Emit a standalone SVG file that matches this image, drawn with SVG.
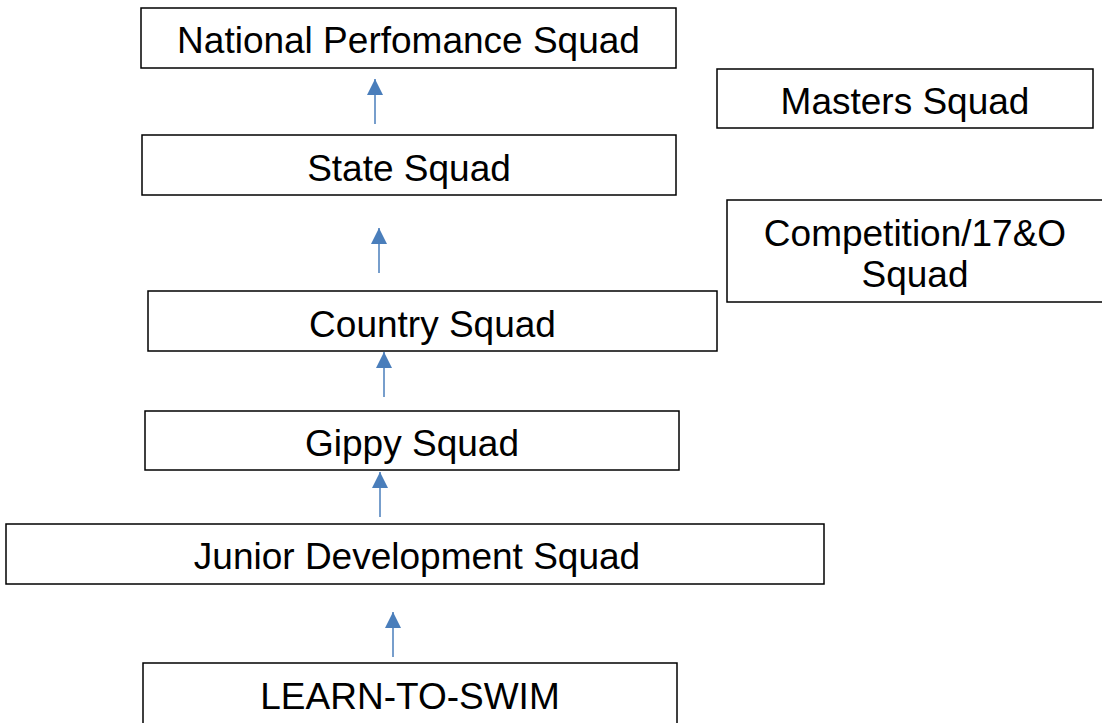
<svg xmlns="http://www.w3.org/2000/svg" width="1102" height="723" viewBox="0 0 1102 723">
<style>
.box{fill:#fff;stroke:#000;stroke-width:1.5}
.lbl{font-family:"Liberation Sans",Arial,sans-serif;font-size:37px;fill:#000;text-anchor:middle}
.conn{stroke:#4a7ebb;stroke-width:1.5;fill:none}
</style>
<defs>
<marker id="ah" markerUnits="userSpaceOnUse" markerWidth="16" markerHeight="18" refX="16" refY="8" orient="auto">
<path d="M0,0 L16,8 L0,16 Z" fill="#4a7ebb"/>
</marker>
</defs>
<rect width="1102" height="723" fill="#fff"/>
<g id="connectors">
<line class="conn" x1="375" y1="124" x2="375" y2="79" marker-end="url(#ah)"/>
<line class="conn" x1="379" y1="273" x2="379" y2="228" marker-end="url(#ah)"/>
<line class="conn" x1="384" y1="397" x2="384" y2="352" marker-end="url(#ah)"/>
<line class="conn" x1="380" y1="517" x2="380" y2="472" marker-end="url(#ah)"/>
<line class="conn" x1="393" y1="657" x2="393" y2="612" marker-end="url(#ah)"/>
</g>
<g id="national"><rect class="box" x="141" y="8" width="535" height="60"/><text class="lbl" x="408.5" y="53">National Perfomance Squad</text></g>
<g id="masters"><rect class="box" x="717" y="69" width="376" height="59"/><text class="lbl" x="905" y="114">Masters Squad</text></g>
<g id="state"><rect class="box" x="142" y="135" width="534" height="60"/><text class="lbl" x="409" y="181">State Squad</text></g>
<g id="competition"><rect class="box" x="727" y="200" width="380" height="102"/><text class="lbl" x="915" y="246">Competition/17&amp;O</text><text class="lbl" x="915" y="287">Squad</text></g>
<g id="country"><rect class="box" x="148" y="291" width="569" height="60"/><text class="lbl" x="432.5" y="337">Country Squad</text></g>
<g id="gippy"><rect class="box" x="145" y="411" width="534" height="59"/><text class="lbl" x="412" y="456">Gippy Squad</text></g>
<g id="junior"><rect class="box" x="6" y="524" width="818" height="60"/><text class="lbl" x="417" y="569">Junior Development Squad</text></g>
<g id="learn"><rect class="box" x="143" y="663" width="534" height="70"/><text class="lbl" x="410" y="709">LEARN-TO-SWIM</text></g>
</svg>
